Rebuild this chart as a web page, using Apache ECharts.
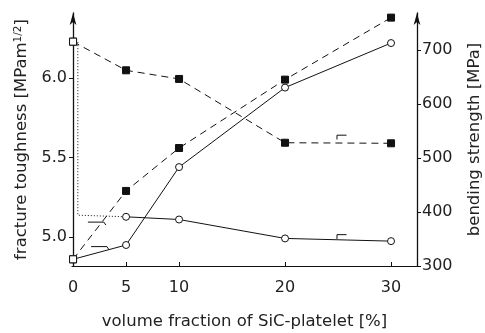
<!DOCTYPE html>
<html>
<head>
<meta charset="utf-8">
<script src="https://cdn.jsdelivr.net/npm/echarts@6/dist/echarts.min.js"></script>
<style>
  html, body { margin: 0; padding: 0; background: #fff; }
  #main { width: 485px; height: 333px; }
</style>
</head>
<body>
<div id="main"></div>
<script>
// data
var fractions = [0, 5, 10, 20, 30];
var toughDashed = [4.86, 5.29, 5.56, 5.99, 6.38];   // left axis, filled squares
var toughSolid = [4.86, 4.95, 5.44, 5.94, 6.22];    // left axis, open circles
var strengthDashed = [715, 662, 646, 528, 527];     // right axis, filled squares
var strengthSolid = [null, 391, 386, 351, 346];     // right axis, open circles
var strengthDrop = [[0.45, 714], [0.45, 394], [5, 391]]; // dotted link
var xTicks = [0, 5, 10, 20, 30];
var leftTicks = [5.0, 5.5, 6.0];
var rightTicks = [300, 400, 500, 600, 700];

var font = 'DejaVu Sans';
var ink = '#111';

function pairs(ys) {
    return fractions.map(function (x, i) { return ys[i] === null ? null : [x, ys[i]]; })
        .filter(function (p) { return p; });
}

var nameStyle = {
    fontFamily: font, fontSize: 16.5, color: '#222',
    rich: { sup: { fontFamily: font, fontSize: 10.5, color: '#222', verticalAlign: 'top', lineHeight: 10 } }
};

var myChart = echarts.init(document.getElementById('main')),
    option = {
        animation: false,
        grid: { left: 72, right: 68, top: 13, bottom: 67, outerBoundsMode: 'none' },
        xAxis: {
            type: 'value', min: -0.1, max: 32.45,
            name: 'volume fraction of SiC-platelet [%]',
            nameLocation: 'middle', nameGap: 47,
            nameTextStyle: nameStyle,
            axisLine: { lineStyle: { color: ink, width: 1.2 } },
            axisTick: { inside: true, length: 4, customValues: xTicks, lineStyle: { color: ink } },
            axisLabel: { customValues: xTicks, fontFamily: font, fontSize: 16, color: '#222', margin: 14 },
            splitLine: { show: false }
        },
        yAxis: [{
            type: 'value', min: 4.818, max: 6.409, position: 'left',
            name: 'fracture toughness [MPam{sup|1/2}]',
            nameLocation: 'middle', nameGap: 42,
            nameTextStyle: nameStyle,
            axisLine: { show: true, symbol: ['none', 'arrow'], symbolSize: [5, 12], lineStyle: { color: ink, width: 1.3 } },
            axisTick: { show: true, length: 4, customValues: leftTicks, lineStyle: { color: ink } },
            axisLabel: { customValues: leftTicks, fontFamily: font, fontSize: 16, color: '#222', margin: 5,
                formatter: function (v) { return v.toFixed(1); } },
            splitLine: { show: false }
        }, {
            type: 'value', min: 300, max: 768, position: 'right',
            name: 'bending strength [MPa]',
            nameLocation: 'middle', nameGap: 49, nameRotate: 90,
            nameTextStyle: nameStyle,
            axisLine: { show: true, symbol: ['none', 'arrow'], symbolSize: [5, 12], lineStyle: { color: ink, width: 1.3 } },
            axisTick: { show: true, length: 4, customValues: rightTicks, lineStyle: { color: ink } },
            axisLabel: { customValues: rightTicks, fontFamily: font, fontSize: 16, color: '#222', margin: 5 },
            splitLine: { show: false }
        }],
        series: [
            { type: 'line', yAxisIndex: 0, data: pairs(toughDashed), symbol: 'rect', symbolSize: 7,
              lineStyle: { color: ink, width: 1, type: [7, 5] },
              itemStyle: { color: ink, borderColor: ink, borderWidth: 1 }, z: 3 },
            { type: 'line', yAxisIndex: 0, data: pairs(toughSolid), symbol: 'circle', symbolSize: 7,
              lineStyle: { color: ink, width: 1 },
              itemStyle: { color: '#fff', borderColor: ink, borderWidth: 1 }, z: 4 },
            { type: 'line', yAxisIndex: 1, data: pairs(strengthDashed), symbol: 'rect', symbolSize: 7,
              lineStyle: { color: ink, width: 1, type: [7, 5] },
              itemStyle: { color: ink, borderColor: ink, borderWidth: 1 }, z: 3 },
            { type: 'line', yAxisIndex: 1, data: pairs(strengthSolid), symbol: 'circle', symbolSize: 7,
              lineStyle: { color: ink, width: 1 },
              itemStyle: { color: '#fff', borderColor: ink, borderWidth: 1 }, z: 4 },
            { type: 'line', yAxisIndex: 1, data: strengthDrop, symbol: 'none',
              lineStyle: { color: ink, width: 1, type: [1, 2] }, z: 2 },
            // open squares at 0
            { type: 'scatter', yAxisIndex: 1, data: [[0, strengthDashed[0]]], symbol: 'rect', symbolSize: 7,
              itemStyle: { color: '#fff', borderColor: ink, borderWidth: 1, opacity: 1 }, z: 6 },
            { type: 'scatter', yAxisIndex: 0, data: [[0, toughSolid[0]]], symbol: 'rect', symbolSize: 7,
              itemStyle: { color: '#fff', borderColor: ink, borderWidth: 1, opacity: 1 }, z: 6 },
            // axis hint hooks
            { type: 'line', yAxisIndex: 0, data: [[1.4, 5.094], [2.9, 5.094], [3.1, 5.075]], symbol: 'none',
              lineStyle: { color: ink, width: 1 } },
            { type: 'line', yAxisIndex: 0, data: [[1.7, 4.94], [3.2, 4.94], [3.4, 4.92]], symbol: 'none',
              lineStyle: { color: ink, width: 1 } },
            { type: 'line', yAxisIndex: 1, data: [[24.9, 534], [24.9, 542], [25.8, 542]], symbol: 'none',
              lineStyle: { color: ink, width: 1 } },
            { type: 'line', yAxisIndex: 1, data: [[24.9, 350], [24.9, 358], [25.8, 358]], symbol: 'none',
              lineStyle: { color: ink, width: 1 } }
        ]
    };

myChart.setOption(option);
</script>
</body>
</html>
